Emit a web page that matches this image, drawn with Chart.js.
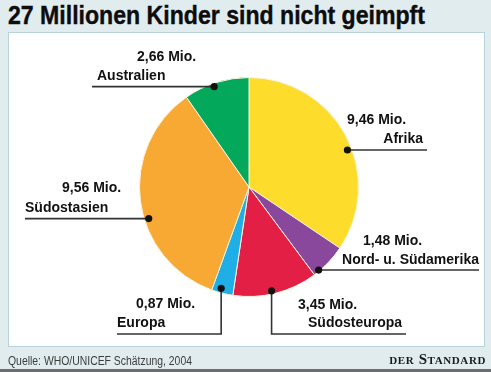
<!DOCTYPE html>
<html>
<head>
<meta charset="utf-8">
<script src="https://cdn.jsdelivr.net/npm/chart.js@4"></script>
<style>
  html, body { margin: 0; padding: 0; }
  body { width: 491px; height: 372px; background: #e1ecef; position: relative; overflow: hidden; font-family: "Liberation Sans", sans-serif; }
  #title { position: absolute; left: 8px; top: 0px; font: bold 26px "Liberation Sans", sans-serif; color: #0d0d0d; white-space: nowrap; transform-origin: 0 0; -webkit-text-stroke: 0.4px #0d0d0d; }
  #panel { position: absolute; left: 8px; top: 32px; width: 475px; height: 313px; background: #fff; border: 1px solid #b8d3db; }
  #chart { position: absolute; left: 0; top: 0; }
  #source { position: absolute; left: 8px; top: 354px; font: 12px "Liberation Sans", sans-serif; color: #3c3c3c; white-space: nowrap; transform-origin: 0 0; }
  #logo { position: absolute; right: 5px; top: 351px; font: bold 15px "Liberation Serif", serif; font-variant: small-caps; color: #1a1a1a; white-space: nowrap; letter-spacing: 0.6px; }
  #bar { position: absolute; left: 0; top: 369px; width: 491px; height: 3px; background: #6d6d6d; }
</style>
</head>
<body>
<div id="title">27 Millionen Kinder sind nicht geimpft</div>
<div id="panel"></div>
<canvas id="chart" width="491" height="372"></canvas>
<div id="source">Quelle: WHO/UNICEF Schätzung, 2004</div>
<div id="logo">der Standard</div>
<div id="bar"></div>
<script>
// Regionen und Werte (Mio. ungeimpfte Kinder)
const regions = ['Afrika', 'Nord- u. Südamerika', 'Südosteuropa', 'Europa', 'Südostasien', 'Australien'];
const millions = [9.46, 1.48, 3.45, 0.87, 9.56, 2.66];
const sliceColors = ['#fddc2b', '#8a489c', '#e31f45', '#1faee6', '#f7a934', '#04a85b'];

// Lage der Beschriftungen: Punkt auf dem Segment (t = Anteil des Winkels, r = Radiusanteil),
// Führungslinie und Textpositionen
const placement = [
  { t: 0.56, r: 0.96, end: 427, val: [347, 120, 'left'], name: [423, 139, 'right'] },
  { t: 0.83, r: 0.99, end: 479, val: [363, 241, 'left'], name: [479, 260, 'right'] },
  { t: 0.54, r: 0.97, down: 334, end: 406, val: [298, 305, 'left'], name: [308, 323, 'left'] },
  { t: 0.60, r: 0.96, down: 334, end: 117, val: [136, 304, 'left'], name: [117, 323, 'left'] },
  { t: 0.42, r: 0.96, end: 25, val: [62, 188, 'left'], name: [25, 208, 'left'] },
  { t: 0.45, r: 0.97, end: 92, val: [137, 57, 'left'], name: [97, 76, 'left'] }
];

// Titel und Quelle schmaler machen (Condensed-Schrift nachahmen)
function squeeze(id, targetWidth) {
  const el = document.getElementById(id);
  const w = el.getBoundingClientRect().width;
  if (w > 0) el.style.transform = 'scaleX(' + (targetWidth / w) + ')';
}
squeeze('title', 417);
squeeze('source', 184);

const leaderLabels = {
  id: 'leaderLabels',
  afterDatasetsDraw(chart) {
    const ctx = chart.ctx;
    const arcs = chart.getDatasetMeta(0).data;
    ctx.save();
    arcs.forEach((arc, i) => {
      const p = placement[i];
      const { x, y, startAngle, endAngle, outerRadius } =
        arc.getProps(['x', 'y', 'startAngle', 'endAngle', 'outerRadius'], true);
      const a = startAngle + (endAngle - startAngle) * p.t;
      const px = x + Math.cos(a) * outerRadius * p.r;
      const py = y + Math.sin(a) * outerRadius * p.r;

      ctx.strokeStyle = '#333';
      ctx.lineWidth = 1.6;
      ctx.beginPath();
      ctx.moveTo(px, py);
      if (p.down) {
        ctx.lineTo(px, p.down);
        ctx.lineTo(p.end, p.down);
      } else {
        ctx.lineTo(p.end, py);
      }
      ctx.stroke();

      ctx.fillStyle = '#111';
      ctx.beginPath();
      ctx.arc(px, py, 3.6, 0, Math.PI * 2);
      ctx.fill();

      ctx.font = 'bold 14px "Liberation Sans", sans-serif';
      ctx.textBaseline = 'middle';
      const valText = millions[i].toFixed(2).replace('.', ',') + ' Mio.';
      ctx.textAlign = p.val[2];
      ctx.fillText(valText, p.val[0], p.val[1]);
      ctx.textAlign = p.name[2];
      ctx.fillText(regions[i], p.name[0], p.name[1]);
    });
    ctx.restore();
  }
};

new Chart(document.getElementById('chart'), {
  type: 'pie',
  data: {
    labels: regions,
    datasets: [{
      data: millions,
      backgroundColor: sliceColors,
      borderColor: '#fbf3dc',
      borderWidth: 1,
      hoverOffset: 0
    }]
  },
  options: {
    responsive: false,
    animation: false,
    events: [],
    layout: { padding: { left: 139, right: 132, top: 77, bottom: 75 } },
    plugins: {
      legend: { display: false },
      tooltip: { enabled: false }
    }
  },
  plugins: [leaderLabels]
});
</script>
</body>
</html>
